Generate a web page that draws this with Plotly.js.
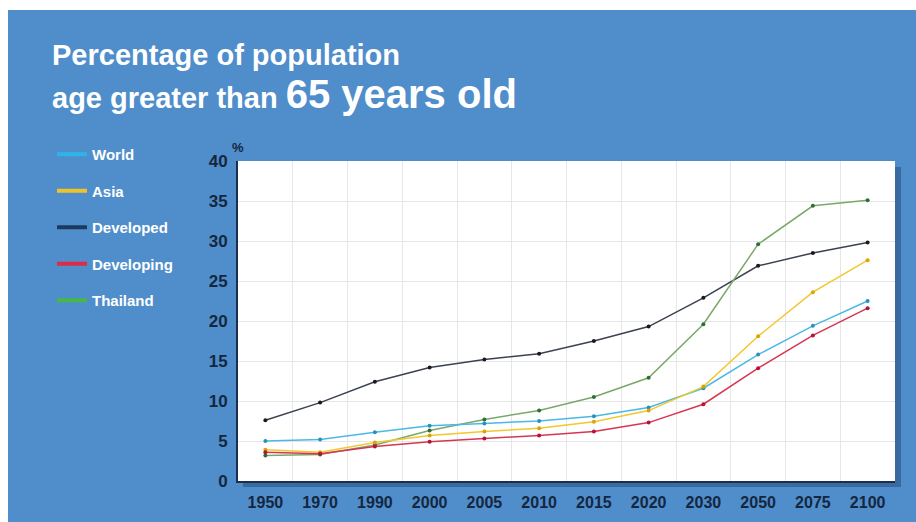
<!DOCTYPE html>
<html>
<head>
<meta charset="utf-8">
<script src="https://cdn.plot.ly/plotly-3.0.1.min.js"></script>
<style>
  html, body { margin: 0; padding: 0; background: #ffffff; }
  #chart { width: 916px; height: 522px; }
</style>
</head>
<body>
<div id="chart"></div>
<script>
// ---- data ----
const years = ["1950", "1970", "1990", "2000", "2005", "2010", "2015", "2020", "2030", "2050", "2075", "2100"];
const seriesNames = ["World", "Asia", "Developed", "Developing", "Thailand"];
const world      = [5.0, 5.2, 6.1, 6.9, 7.2, 7.5, 8.1, 9.2, 11.6, 15.8, 19.4, 22.5];
const asia       = [3.9, 3.6, 4.8, 5.7, 6.2, 6.6, 7.4, 8.8, 11.8, 18.1, 23.6, 27.6];
const developed  = [7.6, 9.8, 12.4, 14.2, 15.2, 15.9, 17.5, 19.3, 22.9, 26.9, 28.5, 29.8];
const developing = [3.6, 3.4, 4.3, 4.9, 5.3, 5.7, 6.2, 7.3, 9.6, 14.1, 18.2, 21.6];
const thailand   = [3.2, 3.3, 4.5, 6.3, 7.7, 8.8, 10.5, 12.9, 19.6, 29.6, 34.4, 35.1];
const yTicks = [0, 5, 10, 15, 20, 25, 30, 35, 40];

// ---- styles ----
const lineColors   = {World: "#4cb8e6", Asia: "#f3c72e", Developed: "#3b4252", Developing: "#d83553", Thailand: "#7aa86a"};
const markerColors = {World: "#2a8fc0", Asia: "#dca400", Developed: "#1a1a1a", Developing: "#b3123a", Thailand: "#2f6e35"};
const legendColors = {World: "#2fb4ea", Asia: "#eec22a", Developed: "#1c3a60", Developing: "#df2a45", Thailand: "#45b845"};
const values = {World: world, Asia: asia, Developed: developed, Developing: developing, Thailand: thailand};
const drawOrder = ["Developed", "Thailand", "World", "Asia", "Developing"];

const FONT = "Liberation Sans, Arial, sans-serif";
const NAVY = "#15263f";

const traces = [];
drawOrder.forEach(name => {
  traces.push({
    type: "scatter", mode: "lines+markers", name: name,
    x: years, y: values[name],
    line: {color: lineColors[name], width: 1.5},
    marker: {color: markerColors[name], size: 4},
    showlegend: false, hoverinfo: "x+y+name"
  });
});
seriesNames.forEach((name, i) => {
  traces.push({
    type: "scatter", mode: "lines", name: name,
    x: [null], y: [null],
    line: {color: legendColors[name], width: 4},
    showlegend: true, legendgroup: "g" + i, hoverinfo: "skip"
  });
});

// pixel helpers for paper-referenced decorations (plot area 238..895 x 161..481)
const PL = 238, PR = 895, PT = 161, PB = 481;
const px = v => (v - PL) / (PR - PL);
const py = v => (PB - v) / (PB - PT);

const layout = {
  width: 916, height: 522,
  paper_bgcolor: "#4f8ecb",
  plot_bgcolor: "#ffffff",
  margin: {l: PL, r: 916 - PR, t: PT, b: 522 - PB, pad: 0},
  title: {
    text: "<span style='font-size:29px'>Percentage of population</span><br>" +
          "<span style='font-size:29px'>age greater than </span><span style='font-size:40px'>65 years old</span>",
    font: {family: FONT, size: 33, color: "#ffffff", weight: "bold"},
    xref: "container", yref: "container",
    x: 52 / 916, xanchor: "left",
    y: 1 - 65 / 522, yanchor: "top"
  },
  xaxis: {
    type: "category",
    categoryorder: "array", categoryarray: years,
    range: [-0.5, 11.5],
    tickson: "boundaries",
    showgrid: true, gridcolor: "#e6e6e6", gridwidth: 1,
    showline: true, linecolor: "#1b2f4d", linewidth: 2,
    ticks: "", ticklabelstandoff: 6,
    tickfont: {family: FONT, size: 16, color: NAVY, weight: "bold"},
    zeroline: false, fixedrange: true
  },
  yaxis: {
    range: [0, 40],
    tickmode: "array", tickvals: yTicks,
    showgrid: true, gridcolor: "#e6e6e6", gridwidth: 1,
    showline: true, linecolor: "#1b2f4d", linewidth: 2,
    ticks: "", ticklabelstandoff: 5,
    tickfont: {family: FONT, size: 17, color: NAVY, weight: "bold"},
    zeroline: false, fixedrange: true
  },
  legend: {
    x: px(52), xanchor: "left", xref: "paper",
    y: py(138), yanchor: "top", yref: "paper",
    bgcolor: "rgba(0,0,0,0)", borderwidth: 0,
    font: {family: FONT, size: 15, color: "#ffffff", weight: "bold"},
    tracegroupgap: 14,
    traceorder: "grouped"
  },
  shapes: [
    // white frame strips (top and left)
    {type: "rect", xref: "paper", yref: "paper", x0: px(0), x1: px(916), y0: py(10), y1: py(0),
     fillcolor: "#ffffff", line: {width: 0}, layer: "below"},
    {type: "rect", xref: "paper", yref: "paper", x0: px(0), x1: px(8), y0: py(522), y1: py(0),
     fillcolor: "#ffffff", line: {width: 0}, layer: "below"},
    // drop shadow of plot panel
    {type: "rect", xref: "paper", yref: "paper", x0: 1, x1: px(PR + 6), y0: py(PB + 6), y1: py(PT + 6),
     fillcolor: "#3a6aa2", line: {width: 0}, layer: "below"},
    {type: "rect", xref: "paper", yref: "paper", x0: px(PL + 5), x1: px(PR + 6), y0: py(PB + 6), y1: 0,
     fillcolor: "#3a6aa2", line: {width: 0}, layer: "below"}
  ],
  annotations: [
    {text: "%", xref: "paper", yref: "paper", x: px(238), y: py(147), xanchor: "center", yanchor: "middle",
     showarrow: false, font: {family: FONT, size: 13, color: NAVY, weight: "bold"}}
  ],
  showlegend: true
};

Plotly.newPlot("chart", traces, layout, {displayModeBar: false, staticPlot: false});
</script>
</body>
</html>
